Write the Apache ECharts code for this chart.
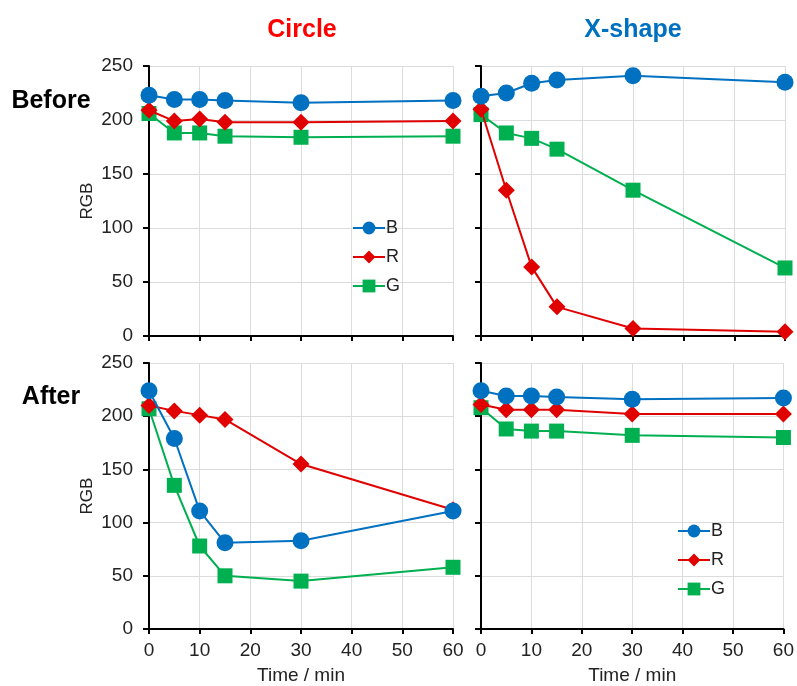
<!DOCTYPE html>
<html><head><meta charset="utf-8">
<script src="https://cdn.jsdelivr.net/npm/echarts@6/dist/echarts.min.js"></script>
<style>html,body{margin:0;padding:0;background:#fff}#c{width:797px;height:686px}</style>
</head><body><div id="c"></div>
<script>
const times = [0, 5, 10, 15, 30, 60];
const xTicks = [0, 10, 20, 30, 40, 50, 60];
const yTicks = [0, 50, 100, 150, 200, 250];
const seriesNames = ['B', 'R', 'G'];
const columnTitles = ['Circle', 'X-shape'];
const rowTitles = ['Before', 'After'];

// Before – Circle
const beforeCircleB = [223, 219, 219, 218, 216, 218];
const beforeCircleR = [209, 199, 201, 198, 198, 199];
const beforeCircleG = [206, 188, 188, 185, 184, 185];
// Before – X-shape
const beforeXB = [222, 225, 234, 237, 241, 235];
const beforeXR = [210, 135, 64, 27, 7, 4];
const beforeXG = [205, 188, 183, 173, 135, 63];
// After – Circle
const afterCircleB = [224, 179, 111, 81, 83, 111];
const afterCircleR = [210, 205, 201, 197, 155, 112];
const afterCircleG = [207, 135, 78, 50, 45, 58];
// After – X-shape
const afterXB = [224, 219, 219, 218, 216, 217];
const afterXR = [211, 206, 206, 206, 202, 202];
const afterXG = [208, 188, 186, 186, 182, 180];

const colors = { B: '#0070C0', R: '#E00000', G: '#00B050' };
const symbols = { B: 'circle', R: 'diamond', G: 'rect' };
const symbolSizes = { B: 17, R: 17, G: 15 };
const FONT = 'Arial, Liberation Sans, sans-serif';

const panels = [
  [beforeCircleB, beforeCircleR, beforeCircleG],
  [beforeXB, beforeXR, beforeXG],
  [afterCircleB, afterCircleR, afterCircleG],
  [afterXB, afterXR, afterXG]
];

const grids = [
  { left: 149, top: 66, width: 304, height: 270 },
  { left: 481, top: 66, width: 304, height: 270 },
  { left: 149, top: 363, width: 304, height: 270 },
  { left: 481, top: 363, width: 304, height: 270 }
];

const xAxes = grids.map((g, i) => ({
  type: 'value', gridIndex: i, min: xTicks[0], max: xTicks[xTicks.length - 1], interval: 10,
  name: i >= 2 ? 'Time / min' : '', nameLocation: 'middle', nameGap: 37,
  nameTextStyle: { fontSize: 19, color: '#222', fontFamily: FONT },
  axisLine: { show: true, onZero: false, lineStyle: { color: '#000', width: 2 } },
  axisTick: { show: true, length: 5, lineStyle: { color: '#000', width: 2 } },
  axisLabel: { show: i >= 2, fontSize: 19, color: '#222', margin: 12, fontFamily: FONT },
  splitLine: { show: true, lineStyle: { color: '#dcdcdc', width: 1 } }
}));

const yAxes = grids.map((g, i) => ({
  type: 'value', gridIndex: i, min: yTicks[0], max: yTicks[yTicks.length - 1], interval: 50,
  name: (i % 2 === 0) ? 'RGB' : '', nameLocation: 'middle', nameGap: 53, nameRotate: 90,
  nameTextStyle: { fontSize: 17, color: '#222', fontFamily: FONT },
  axisLine: { show: true, lineStyle: { color: '#000', width: 2 } },
  axisTick: { show: true, length: 6, lineStyle: { color: '#000', width: 2 } },
  axisLabel: { show: i % 2 === 0, fontSize: 19, color: '#222', margin: 16, fontFamily: FONT },
  splitLine: { show: true, lineStyle: { color: '#dcdcdc', width: 1 } }
}));

const series = [];
panels.forEach((vals, p) => {
  seriesNames.forEach((n, k) => {
    series.push({
      name: n, type: 'line', xAxisIndex: p, yAxisIndex: p,
      data: times.map((t, j) => [t, vals[k][j]]),
      symbol: symbols[n], symbolSize: symbolSizes[n], clip: false,
      lineStyle: { color: colors[n], width: 2 },
      itemStyle: { color: colors[n] },
      z: 10 - k
    });
  });
});

const legendCommon = {
  orient: 'vertical', itemWidth: 32, itemHeight: 16, itemGap: 11,
  data: seriesNames,
  textStyle: { fontSize: 18, color: '#222', fontFamily: FONT, padding: [0, 0, 0, -4], lineHeight: 16 },
  selectedMode: false
};

const option = {
  backgroundColor: '#fff',
  animation: false,
  title: [
    { text: columnTitles[0], left: 297, top: 13, textAlign: 'center', textStyle: { color: '#FF0000', fontSize: 25, fontWeight: 'bold', fontFamily: FONT } },
    { text: columnTitles[1], left: 628, top: 13, textAlign: 'center', textStyle: { color: '#0070C0', fontSize: 25, fontWeight: 'bold', fontFamily: FONT } },
    { text: rowTitles[0], left: 46, top: 84, textAlign: 'center', textStyle: { color: '#000', fontSize: 25, fontWeight: 'bold', fontFamily: FONT } },
    { text: rowTitles[1], left: 46, top: 380, textAlign: 'center', textStyle: { color: '#000', fontSize: 25, fontWeight: 'bold', fontFamily: FONT } }
  ],
  legend: [
    Object.assign({ left: 347, top: 214 }, legendCommon),
    Object.assign({ left: 672, top: 517 }, legendCommon)
  ],
  grid: grids,
  xAxis: xAxes,
  yAxis: yAxes,
  series: series
};

const chart = echarts.init(document.getElementById('c'), null, { renderer: 'canvas' });
chart.setOption(option);
</script></body></html>
